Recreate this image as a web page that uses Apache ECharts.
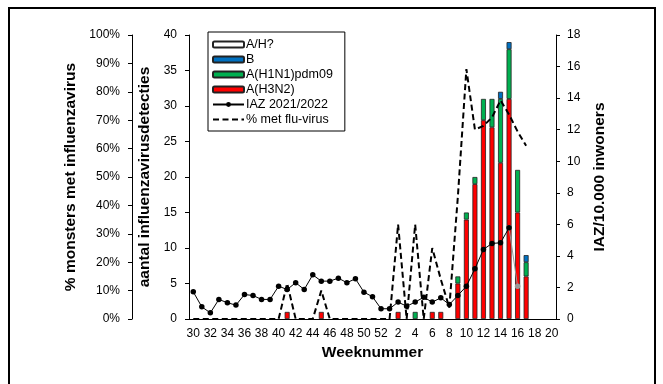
<!DOCTYPE html>
<html>
<head>
<meta charset="utf-8">
<script src="https://cdn.jsdelivr.net/npm/echarts@6/dist/echarts.min.js"></script>
<style>
  html, body { margin: 0; padding: 0; background: #fff; }
  #chart { width: 663px; height: 384px; }
</style>
</head>
<body>
<div id="chart"></div>
<script>
// weken 30-52 (2021) en 1-20 (2022)
const weken = [30,31,32,33,34,35,36,37,38,39,40,41,42,43,44,45,46,47,48,49,50,51,52,
  1,2,3,4,5,6,7,8,9,10,11,12,13,14,15,16,17,18,19,20].map(String);

// aantal influenzavirusdetecties per type
const aH3N2 = [0,0,0,0,0,0,0,0,0,0,0,1,0,0,0,1,0,0,0,0,0,0,0,
  0,1,0,0,0,1,1,0,5,14,19,28,27,22,31,15,6,0,0,0];
const aH1N1 = [0,0,0,0,0,0,0,0,0,0,0,0,0,0,0,0,0,0,0,0,0,0,0,
  0,0,0,1,0,0,0,0,1,1,1,3,4,9,7,6,2,0,0,0];
const fluB = [0,0,0,0,0,0,0,0,0,0,0,0,0,0,0,0,0,0,0,0,0,0,0,
  0,0,0,0,0,0,0,0,0,0,0,0,0,1,1,0,1,0,0,0];
const aHonbekend = [0,0,0,0,0,0,0,0,0,0,0,0,0,0,0,0,0,0,0,0,0,0,0,
  0,0,0,0,0,0,0,0,0,0,0,0,0,0,0,0,0,0,0,0];

// IAZ per 10.000 inwoners (laatste week voorlopig, grijs)
const iaz = [1.72,0.77,0.39,1.24,1.03,0.88,1.55,1.49,1.24,1.24,2.08,1.87,2.3,1.87,2.8,2.4,2.4,2.59,2.3,2.55,1.7,1.41,0.65,
  0.65,1.07,0.81,1.07,1.38,1.07,1.34,0.92,1.49,2.08,3.18,4.41,4.79,4.83,5.78,null,null,null,null,null];
const iazVoorlopig = [null,null,null,null,null,null,null,null,null,null,null,null,null,null,null,null,null,null,null,null,null,null,null,
  null,null,null,null,null,null,null,null,null,null,null,null,null,null,5.78,2.08,null,null,null,null];

// % monsters met influenzavirus
const pctFlu = [0,0,0,0,0,0,0,0,0,0,0,12.5,0,0,0,10,0,0,0,0,0,0,0,
  0,33.3,0,33.3,0,25,14,4,43,88,66.7,68,71,77,72,66,61,null,null,null];

const zeroToDash = arr => arr.map(v => (v === 0 ? '-' : v));
const nullToDash = arr => arr.map(v => (v == null ? '-' : v));

const myChart = echarts.init(document.getElementById('chart'));

const titleFont = { fontFamily: 'Liberation Sans', fontWeight: 'bold', fontSize: 15.5, color: '#000' };

const axisCommon = {
  axisLine: { show: true, lineStyle: { color: '#000', width: 1 } },
  axisTick: { show: true, length: 4, lineStyle: { color: '#000' } },
  splitLine: { show: false },
  nameLocation: 'middle',
  nameRotate: 90,
  nameTextStyle: titleFont
};

const barStyle = color => ({ color: color, borderColor: '#222', borderWidth: 0.8 });

const option = {
  animation: false,
  textStyle: { fontFamily: 'Liberation Sans', color: '#000' },
  graphic: [{
    type: 'rect',
    shape: { x: 9, y: 8, width: 646, height: 400 },
    style: { fill: 'none', stroke: '#000', lineWidth: 2 },
    silent: true
  }],
  legend: {
    orient: 'vertical',
    left: 208,
    top: 32,
    padding: [6, 12, 5, 4],
    borderColor: '#000',
    borderWidth: 1,
    backgroundColor: '#fff',
    itemWidth: 31,
    itemHeight: 6,
    itemGap: 2,
    textStyle: { fontFamily: 'Liberation Sans', fontSize: 12.5, color: '#000', padding: [0, 0, 0, -3] },
    data: [
      'A/H?', 'B', 'A(H1N1)pdm09', 'A(H3N2)', 'IAZ 2021/2022',
      { name: '% met flu-virus', itemStyle: { opacity: 0 } }
    ]
  },
  grid: { left: 189, right: 107, top: 35, bottom: 65 },
  xAxis: {
    type: 'category',
    data: weken,
    boundaryGap: true,
    name: 'Weeknummer',
    nameLocation: 'middle',
    nameGap: 26,
    nameTextStyle: titleFont,
    axisLine: { lineStyle: { color: '#000', width: 1 } },
    axisTick: { interval: 0, length: 4, lineStyle: { color: '#000' } },
    axisLabel: { interval: 1, fontSize: 12, color: '#000', margin: 9, fontFamily: 'Liberation Sans' }
  },
  yAxis: [
    Object.assign({}, axisCommon, {
      type: 'value',
      min: 0, max: 40, interval: 5,
      position: 'left',
      name: 'aantal influenzavirusdetecties',
      nameGap: 29,
      axisLabel: { fontSize: 12, color: '#000', margin: 12, fontFamily: 'Liberation Sans' }
    }),
    Object.assign({}, axisCommon, {
      type: 'value',
      min: 0, max: 100, interval: 10,
      position: 'left',
      offset: 57,
      name: '% monsters met influenzavirus',
      nameGap: 51,
      axisLabel: { fontSize: 12, color: '#000', margin: 12, formatter: '{value}%', fontFamily: 'Liberation Sans' }
    }),
    Object.assign({}, axisCommon, {
      type: 'value',
      min: 0, max: 18, interval: 2,
      position: 'right',
      name: 'IAZ/10.000 inwoners',
      nameGap: 31,
      axisLabel: { fontSize: 12, color: '#000', margin: 11, fontFamily: 'Liberation Sans' }
    })
  ],
  series: [
    {
      name: 'A(H3N2)', type: 'bar', stack: 'virus', yAxisIndex: 0,
      barWidth: 5, data: zeroToDash(aH3N2), itemStyle: barStyle('#ff0000')
    },
    {
      name: 'A(H1N1)pdm09', type: 'bar', stack: 'virus', yAxisIndex: 0,
      barWidth: 5, data: zeroToDash(aH1N1), itemStyle: barStyle('#00b050')
    },
    {
      name: 'B', type: 'bar', stack: 'virus', yAxisIndex: 0,
      barWidth: 5, data: zeroToDash(fluB), itemStyle: barStyle('#0070c0')
    },
    {
      name: 'A/H?', type: 'bar', stack: 'virus', yAxisIndex: 0,
      barWidth: 5, data: zeroToDash(aHonbekend), itemStyle: barStyle('#ffffff')
    },
    {
      name: 'IAZ voorlopig', type: 'line', yAxisIndex: 2,
      data: nullToDash(iazVoorlopig),
      symbol: 'circle', symbolSize: 5.5, showSymbol: true,
      lineStyle: { color: '#999', width: 1 },
      itemStyle: { color: '#999' },
      z: 3
    },
    {
      name: 'IAZ 2021/2022', type: 'line', yAxisIndex: 2,
      data: nullToDash(iaz),
      symbol: 'circle', symbolSize: 5.5,
      lineStyle: { color: '#000', width: 1 },
      itemStyle: { color: '#000' },
      z: 4
    },
    {
      name: '% met flu-virus', type: 'line', yAxisIndex: 1,
      data: nullToDash(pctFlu),
      symbol: 'none',
      lineStyle: { color: '#000', width: 2, type: [6, 3.5] },
      itemStyle: { color: '#000' },
      z: 5
    }
  ]
};

myChart.setOption(option);
</script>
</body>
</html>
